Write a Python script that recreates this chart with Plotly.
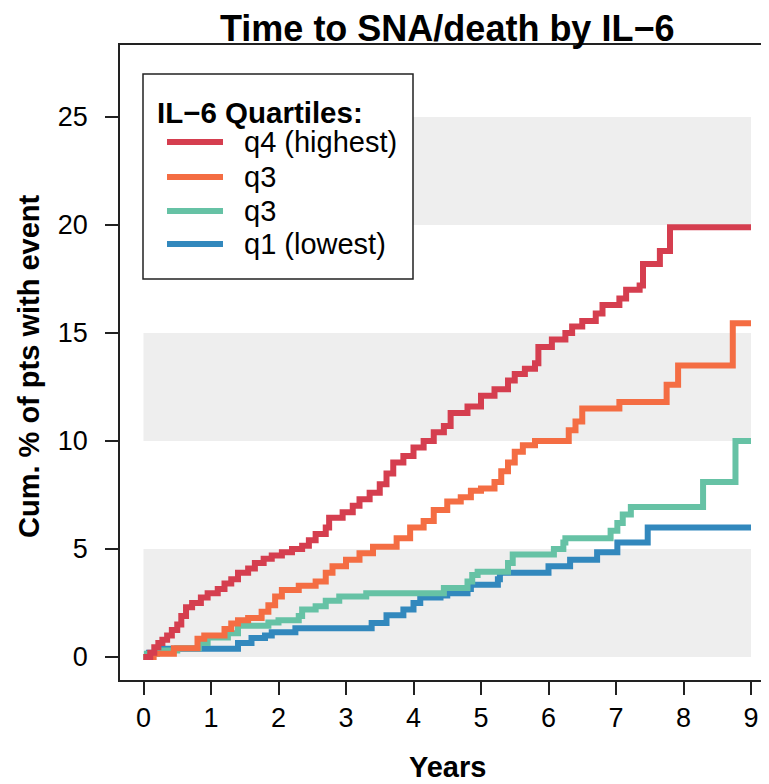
import plotly.graph_objects as go

# ---------------- data ----------------
q4_t = [0, 0.1, 0.16, 0.22, 0.28, 0.35, 0.42, 0.5, 0.56, 0.63, 0.72, 0.85, 0.95, 1.1, 1.2, 1.3,
        1.4, 1.55, 1.65, 1.78, 1.9, 2.05, 2.2, 2.35, 2.45, 2.55, 2.7, 2.75, 2.95, 3.1, 3.2, 3.35,
        3.5, 3.6, 3.7, 3.85, 4.0, 4.15, 4.3, 4.45, 4.55, 4.8, 5.0, 5.2, 5.4, 5.5, 5.65, 5.8, 5.85,
        6.05, 6.25, 6.35, 6.5, 6.7, 6.8, 7.05, 7.15, 7.35, 7.4, 7.65, 7.8, 9.0]
q4_v = [0, 0.2, 0.45, 0.65, 0.8, 1.0, 1.25, 1.5, 1.9, 2.3, 2.5, 2.75, 2.95, 3.15, 3.4, 3.6,
        3.9, 4.1, 4.35, 4.55, 4.7, 4.85, 5.0, 5.15, 5.4, 5.7, 6.0, 6.45, 6.7, 7.0, 7.3, 7.6,
        8.0, 8.5, 9.0, 9.3, 9.7, 10.0, 10.4, 10.7, 11.3, 11.6, 12.1, 12.4, 12.8, 13.1, 13.35, 13.6, 14.35,
        14.7, 15.0, 15.3, 15.55, 15.9, 16.3, 16.6, 17.0, 17.2, 18.2, 18.8, 19.9, 19.9]

q3a_t = [0, 0.15, 0.45, 0.8, 0.9, 1.2, 1.3, 1.4, 1.55, 1.75, 1.85, 1.95, 2.05, 2.3, 2.55, 2.7,
         2.8, 3.0, 3.2, 3.4, 3.75, 3.95, 4.15, 4.3, 4.5, 4.7, 4.85, 5.0, 5.2, 5.3, 5.4, 5.5,
         5.62, 5.8, 6.3, 6.4, 6.5, 7.05, 7.75, 7.92, 8.73, 9.0]
q3a_v = [0, 0.15, 0.4, 0.85, 1.0, 1.3, 1.55, 1.7, 1.8, 2.1, 2.4, 2.8, 3.1, 3.3, 3.5, 3.9,
         4.2, 4.5, 4.8, 5.1, 5.5, 6.0, 6.3, 6.8, 7.2, 7.4, 7.7, 7.8, 8.1, 8.6, 9.0, 9.5,
         9.8, 10.0, 10.5, 10.9, 11.5, 11.8, 12.6, 13.5, 15.45, 15.45]

q3b_t = [0, 0.05, 0.2, 0.5, 0.82, 0.95, 1.25, 1.4, 1.85, 2.0, 2.3, 2.35, 2.55, 2.7, 2.9, 3.3,
         4.45, 4.8, 4.87, 4.95, 5.4, 5.47, 6.08, 6.22, 6.25, 6.92, 7.02, 7.1, 7.22, 8.29, 8.77, 9.0]
q3b_v = [0, 0.15, 0.3, 0.4, 0.65, 0.9, 1.1, 1.45, 1.6, 1.7, 1.9, 2.2, 2.35, 2.6, 2.8, 2.95,
         3.2, 3.5, 3.8, 3.95, 4.35, 4.75, 5.0, 5.3, 5.5, 5.85, 6.2, 6.6, 6.95, 8.1, 10.0, 10.0]

q1_t = [0, 0.08, 0.2, 1.4, 1.6, 1.8, 1.9, 2.25, 3.38, 3.6, 3.85, 4.0, 4.1, 4.4, 4.5, 4.8,
        4.85, 5.25, 5.28, 6.0, 6.32, 6.72, 7.02, 7.47, 9.0]
q1_v = [0, 0.2, 0.38, 0.65, 0.88, 1.0, 1.15, 1.33, 1.57, 1.93, 2.2, 2.5, 2.75, 2.85, 2.95, 3.15,
        3.35, 3.6, 3.9, 4.2, 4.5, 4.85, 5.3, 6.0, 6.0]

series_names = ["q4 (highest)", "q3", "q3", "q1 (lowest)"]
series_colors = ["#D53E4F", "#F46D43", "#66C2A5", "#3288BD"]
series_t = [q4_t, q3a_t, q3b_t, q1_t]
series_v = [q4_v, q3a_v, q3b_v, q1_v]

x_ticks = [0, 1, 2, 3, 4, 5, 6, 7, 8, 9]
y_ticks = [0, 5, 10, 15, 20, 25]
band_ranges = [(0, 5), (10, 15), (20, 25)]
band_x = (0, 9)

title_text = "Time to SNA/death by IL\u22126"
legend_title = "IL\u22126 Quartiles:"

# ---------------- layout geometry ----------------
# the page body adds an 8px offset; positions below are in window pixels
OFF = 8
W, H = 769, 784
ML, MT, MR, MB = 120 - OFF, 45 - OFF, OFF, H - (680 - OFF)
PW = W - ML - MR
PH = H - MT - MB
FONT = "Liberation Sans, Arial, Helvetica, sans-serif"


def px_x(px):
    return (px - OFF - ML) / PW


def px_y(py):
    return (H - MB - (py - OFF)) / PH


fig = go.Figure()

# draw order: blue, green, orange, red on top
for i in [3, 2, 1, 0]:
    fig.add_trace(go.Scatter(
        x=series_t[i], y=series_v[i], mode="lines", name=series_names[i],
        line=dict(color=series_colors[i], width=6, shape="hv"),
        showlegend=False, hoverinfo="x+y+name"))

shapes = []
for lo, hi in band_ranges:
    shapes.append(dict(type="rect", xref="x", yref="y", x0=band_x[0], x1=band_x[1],
                       y0=lo, y1=hi, fillcolor="#EEEEEE", line=dict(width=0), layer="below"))

# manual legend
lx0, ly0, lx1, ly1 = 143, 74, 413, 279
shapes.append(dict(type="rect", xref="paper", yref="paper", x0=px_x(lx0), x1=px_x(lx1),
                   y0=px_y(ly1), y1=px_y(ly0), fillcolor="white",
                   line=dict(color="#222222", width=1.5), layer="above"))
annotations = [dict(text="<b>" + legend_title + "</b>", xref="paper", yref="paper",
                    x=px_x(155), y=px_y(112), xanchor="left", yanchor="middle",
                    showarrow=False, font=dict(size=29.5, color="black", family=FONT))]
item_y = [142, 177, 211, 244]
for i in range(4):
    shapes.append(dict(type="line", xref="paper", yref="paper", x0=px_x(167), x1=px_x(223),
                       y0=px_y(item_y[i]), y1=px_y(item_y[i]),
                       line=dict(color=series_colors[i], width=6), layer="above"))
    annotations.append(dict(text=series_names[i], xref="paper", yref="paper",
                            x=px_x(242), y=px_y(item_y[i]), xanchor="left", yanchor="middle",
                            showarrow=False, font=dict(size=29, color="black", family=FONT)))

# axis titles
annotations.append(dict(text="<b>Years</b>", xref="paper", yref="paper",
                        x=px_x(447), y=px_y(767), xanchor="center", yanchor="middle",
                        showarrow=False, font=dict(size=29, color="black", family=FONT)))
annotations.append(dict(text="<b>Cum. % of pts with event</b>", xref="paper", yref="paper",
                        x=px_x(29), y=px_y(366), xanchor="center", yanchor="middle",
                        textangle=-90, showarrow=False,
                        font=dict(size=29, color="black", family=FONT)))

# title as annotation, anchored to the top edge of the figure
annotations.append(dict(text="<b>" + title_text + "</b>", xref="paper", yref="paper",
                        x=px_x(447), y=px_y(8), xanchor="center", yanchor="top",
                        borderpad=0, borderwidth=0, showarrow=False,
                        font=dict(size=36, color="black", family=FONT)))

fig.update_layout(
    width=W, height=H,
    margin=dict(l=ML, r=MR, t=MT, b=MB, pad=0),
    paper_bgcolor="white", plot_bgcolor="white",
    font=dict(family=FONT, color="black"),
    shapes=shapes, annotations=annotations, showlegend=False,
)

xpp = 67.5
x0_px = 143.5
fig.update_xaxes(
    range=[-(x0_px - OFF - ML) / xpp, -(x0_px - OFF - ML) / xpp + PW / xpp],
    tickmode="array", tickvals=x_ticks, ticktext=[str(v) for v in x_ticks],
    ticks="outside", ticklen=13, tickwidth=1.5, tickcolor="#222222",
    showline=True, linecolor="#222222", linewidth=1.5, mirror=True,
    showgrid=False, zeroline=False,
    tickfont=dict(size=27, color="black", family=FONT), ticklabelstandoff=0,
)

ypp = 21.6
y0_px = 657
plot_bottom = H - MB
fig.update_yaxes(
    range=[-(plot_bottom - (y0_px - OFF)) / ypp, -(plot_bottom - (y0_px - OFF)) / ypp + PH / ypp],
    tickmode="array", tickvals=y_ticks, ticktext=[str(v) for v in y_ticks],
    ticks="outside", ticklen=13, tickwidth=1.5, tickcolor="#222222",
    showline=True, linecolor="#222222", linewidth=1.5,
    showgrid=False, zeroline=False,
    tickfont=dict(size=27, color="black", family=FONT), ticklabelstandoff=12,
)

fig.write_html("out.html")
